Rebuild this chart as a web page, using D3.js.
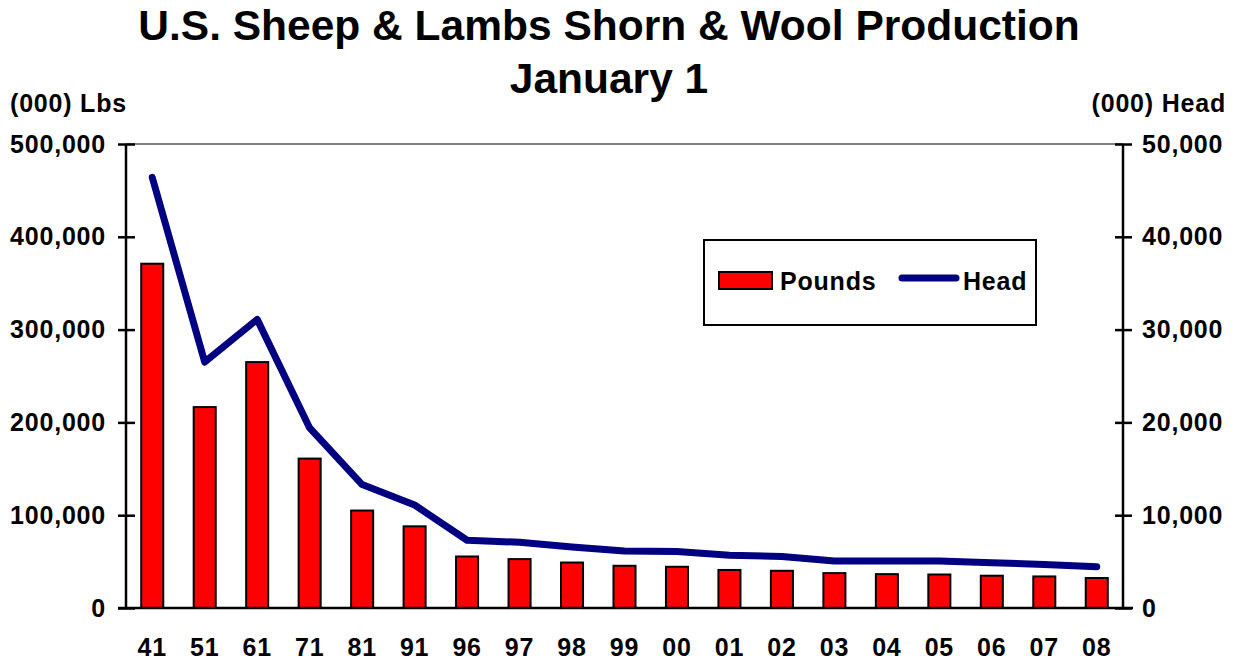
<!DOCTYPE html>
<html>
<head>
<meta charset="utf-8">
<script src="https://cdn.jsdelivr.net/npm/d3@7"></script>
<style>
  body { margin: 0; background: #fff; }
  svg { display: block; font-family: "Liberation Sans", Arial, sans-serif; font-weight: bold; }
</style>
</head>
<body>
<svg id="chart" width="1237" height="665"></svg>
<script>
const years = ["41", "51", "61", "71", "81", "91", "96", "97", "98", "99", "00", "01", "02", "03", "04", "05", "06", "07", "08"];
const pounds = [371000, 216500, 265000, 161000, 105000, 88000, 55500, 52700, 49000, 45500, 44400, 41000, 40100, 37600, 36500, 36100, 34800, 34000, 32300];
const head = [46400, 26500, 31100, 19400, 13300, 11100, 7300, 7080, 6580, 6140, 6100, 5680, 5550, 5070, 5070, 5060, 4880, 4700, 4450];
const leftTicks = [0, 100000, 200000, 300000, 400000, 500000];
const rightTicks = [0, 10000, 20000, 30000, 40000, 50000];

const svg = d3.select("#chart"),
  width = +svg.attr("width"),
  height = +svg.attr("height");

const margin = { top: 144, right: 114, bottom: 57, left: 126 },
  innerWidth = width - margin.left - margin.right,
  innerHeight = height - margin.top - margin.bottom;

const g = svg.append("g")
  .attr("transform", `translate(${margin.left},${margin.top})`);

const x = d3.scaleBand()
  .domain(years)
  .range([0, innerWidth])
  .paddingInner(0.58)
  .paddingOuter(0.29);

const yL = d3.scaleLinear().domain([0, 500000]).range([innerHeight, 0]);
const yR = d3.scaleLinear().domain([0, 50000]).range([innerHeight, 0]);

const fmt = d3.format(",");
const fs = 25, ls = 0.8; // small text size and spacing

// title
svg.append("text")
  .attr("x", 609).attr("y", 40)
  .attr("text-anchor", "middle")
  .attr("font-size", 42.5)
  .text("U.S. Sheep & Lambs Shorn & Wool Production");
svg.append("text")
  .attr("x", 609).attr("y", 93)
  .attr("text-anchor", "middle")
  .attr("font-size", 42.5)
  .text("January 1");

svg.append("text")
  .attr("x", 10).attr("y", 112)
  .attr("font-size", fs).attr("letter-spacing", ls)
  .text("(000) Lbs");
svg.append("text")
  .attr("x", 1226).attr("y", 112)
  .attr("text-anchor", "end")
  .attr("font-size", fs).attr("letter-spacing", ls)
  .text("(000) Head");

// top border
g.append("line")
  .attr("x1", 0).attr("x2", innerWidth)
  .attr("y1", 0).attr("y2", 0)
  .attr("stroke", "#808080")
  .attr("stroke-width", 2);

// bars
g.selectAll(".bar")
  .data(pounds)
  .enter().append("rect")
  .attr("class", "bar")
  .attr("x", (d, i) => x(years[i]))
  .attr("y", d => yL(d))
  .attr("width", x.bandwidth())
  .attr("height", d => innerHeight - yL(d))
  .attr("fill", "#ff0000")
  .attr("stroke", "#000")
  .attr("stroke-width", 2);

// axes
const axL = g.append("g")
  .call(d3.axisLeft(yL).tickValues(leftTicks).tickFormat(fmt).tickSize(8).tickPadding(12));
axL.selectAll(".tick line").attr("x1", 9).attr("x2", -8);

const axR = g.append("g")
  .attr("transform", `translate(${innerWidth},0)`)
  .call(d3.axisRight(yR).tickValues(rightTicks).tickFormat(fmt).tickSize(8).tickPadding(11));
axR.selectAll(".tick line").attr("x1", -8).attr("x2", 9);

const axB = g.append("g")
  .attr("transform", `translate(0,${innerHeight})`)
  .call(d3.axisBottom(x).tickSize(0).tickPadding(30));

[axL, axR, axB].forEach(a => {
  a.select(".domain").attr("stroke", "#000").attr("stroke-width", 2.5);
  a.selectAll(".tick line").attr("stroke", "#000").attr("stroke-width", 2.5);
  a.selectAll("text")
    .attr("fill", "#000")
    .attr("font-size", fs)
    .attr("letter-spacing", ls)
    .attr("font-weight", "bold")
    .attr("font-family", "Liberation Sans, Arial, sans-serif");
});
axL.select(".domain").attr("d", `M0,0V${innerHeight}`);
axR.select(".domain").attr("d", `M0,0V${innerHeight}`);
axB.select(".domain").attr("d", `M-8,0H${innerWidth + 10}`);

// head line
const line = d3.line()
  .x((d, i) => x(years[i]) + x.bandwidth() / 2)
  .y(d => yR(d));

g.append("path")
  .datum(head)
  .attr("fill", "none")
  .attr("stroke", "#000080")
  .attr("stroke-width", 7)
  .attr("stroke-linecap", "round")
  .attr("stroke-linejoin", "round")
  .attr("d", line);

// legend
const lg = svg.append("g");
lg.append("rect")
  .attr("x", 704).attr("y", 240)
  .attr("width", 332).attr("height", 85)
  .attr("fill", "#fff")
  .attr("stroke", "#000")
  .attr("stroke-width", 2);
lg.append("rect")
  .attr("x", 719).attr("y", 272)
  .attr("width", 53).attr("height", 17)
  .attr("fill", "#ff0000")
  .attr("stroke", "#000")
  .attr("stroke-width", 2);
lg.append("text")
  .attr("x", 780).attr("y", 290)
  .attr("font-size", fs).attr("letter-spacing", ls)
  .text("Pounds");
lg.append("line")
  .attr("x1", 902).attr("x2", 956)
  .attr("y1", 278).attr("y2", 278)
  .attr("stroke", "#000080")
  .attr("stroke-width", 7)
  .attr("stroke-linecap", "round");
lg.append("text")
  .attr("x", 963).attr("y", 290)
  .attr("font-size", fs).attr("letter-spacing", ls)
  .text("Head");
</script>
</body>
</html>
